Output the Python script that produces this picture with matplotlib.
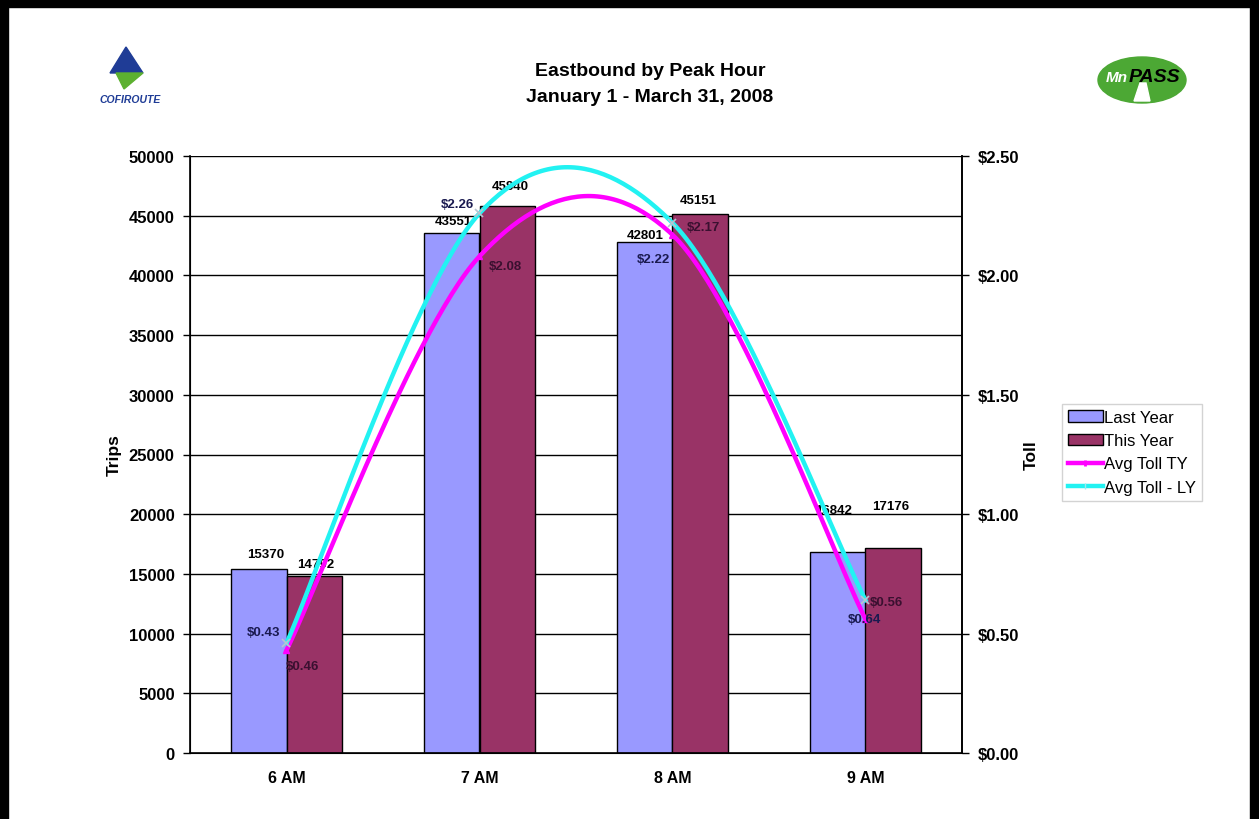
import matplotlib
matplotlib.use('Agg')
import matplotlib.pyplot as plt
from matplotlib.patches import Rectangle, Ellipse, Polygon
from matplotlib.lines import Line2D
import numpy as np

plt.rcParams['font.family'] = ['Liberation Sans', 'DejaVu Sans']

hours = ['6 AM', '7 AM', '8 AM', '9 AM']
trips_ly = [15370, 43551, 42801, 16842]
trips_ty = [14792, 45840, 45151, 17176]
toll_ty = [0.43, 2.08, 2.17, 0.56]
toll_ly = [0.46, 2.26, 2.22, 0.64]

NAVY = '#1a1a50'
PLUM = '#3a1030'

# data label nudges in pixels (dx right, dy up), and their text colours
ly_bar_nudge = [(7, 15), (1, 12), (0, 7), (-4, 42)]
ty_bar_nudge = [(2, 12), (3, 20), (-2, 14), (-2, 42)]
ly_toll_nudge = [(16, -23), (-22, 9), (-19, -36), (-1, -19)]
ty_toll_nudge = [(-23, 18), (26, -10), (31, 8), (21, 17)]
ly_toll_colors = [PLUM, NAVY, NAVY, NAVY]
ty_toll_colors = [NAVY, PLUM, PLUM, PLUM]

LY_BAR = '#9999FF'
TY_BAR = '#993366'
TY_LINE = '#FF00FF'
LY_LINE = '#22F2F2'

PX = 0.72  # points per pixel at 100 dpi


def catmull_rom(xs, ys, n=60):
    """Smoothed line through the points, the way spreadsheet charts draw it."""
    pts = np.column_stack([xs, ys]).astype(float)
    padded = np.vstack([pts[0], pts, pts[-1]])
    out = []
    t = np.linspace(0, 1, n)[:, None]
    for i in range(len(pts) - 1):
        p0, p1, p2, p3 = padded[i], padded[i + 1], padded[i + 2], padded[i + 3]
        seg = 0.5 * ((2 * p1) + (-p0 + p2) * t
                     + (2 * p0 - 5 * p1 + 4 * p2 - p3) * t ** 2
                     + (-p0 + 3 * p1 - 3 * p2 + p3) * t ** 3)
        out.append(seg if i == 0 else seg[1:])
    seg = np.vstack(out)
    return seg[:, 0], seg[:, 1]


def label(axis, text, xy, nudge, color='black'):
    axis.annotate(text, xy, xytext=(nudge[0] * PX, nudge[1] * PX),
                  textcoords='offset points', ha='center', va='center',
                  fontsize=9.5, fontweight='bold', color=color, zorder=6)


fig = plt.figure(figsize=(12.59, 8.2), dpi=100)
fig.patch.set_facecolor('white')

# page border
fig.add_artist(Rectangle((0, 1 - 8 / 820), 1, 8 / 820, transform=fig.transFigure,
                         color='black', zorder=10))
fig.add_artist(Rectangle((0, 0), 8 / 1259, 1, transform=fig.transFigure,
                         color='black', zorder=10))
fig.add_artist(Rectangle((1 - 9 / 1259, 0), 9 / 1259, 1, transform=fig.transFigure,
                         color='black', zorder=10))

ax = fig.add_axes([190 / 1259, 1 - 754 / 820, 772 / 1259, 597 / 820])
x = np.arange(len(hours))
w = 0.286

ax.set_ylim(0, 50000)
ax.set_xlim(-0.5, len(hours) - 0.5)
ax.set_yticks(np.arange(0, 50001, 5000))
for yv in np.arange(5000, 50001, 5000):
    ax.axhline(yv, color='black', lw=1, zorder=0)

b1 = ax.bar(x - w / 2, trips_ly, w, color=LY_BAR, edgecolor='black', lw=1,
            label='Last Year', zorder=2)
b2 = ax.bar(x + w / 2, trips_ty, w, color=TY_BAR, edgecolor='black', lw=1,
            label='This Year', zorder=2)
for xi, v, nd in zip(x, trips_ly, ly_bar_nudge):
    label(ax, f'{v}', (xi - w / 2, v), nd)
for xi, v, nd in zip(x, trips_ty, ty_bar_nudge):
    label(ax, f'{v}', (xi + w / 2, v), nd)

ax.set_xticks(x)
ax.set_xticklabels(hours, fontsize=11.5, fontweight='bold')
ax.tick_params(axis='x', length=0, pad=12)
ax.tick_params(axis='y', length=5, labelsize=12, width=1, pad=6)
for lab in ax.get_yticklabels():
    lab.set_fontweight('bold')
ax.set_ylabel('Trips', fontsize=12.5, fontweight='bold')
ax.yaxis.set_label_coords(-0.088, 0.5)
ax.spines['top'].set_visible(False)
for s in ('left', 'bottom', 'right'):
    ax.spines[s].set_linewidth(1.2)

ax2 = ax.twinx()
ax2.set_ylim(0, 2.5)
ax2.set_yticks(np.arange(0, 2.51, 0.5))
ax2.set_yticklabels([f'${v:.2f}' for v in np.arange(0, 2.51, 0.5)],
                    fontsize=12, fontweight='bold')
ax2.tick_params(axis='y', length=5, width=1, pad=6)
ax2.set_ylabel('Toll', fontsize=12.5, fontweight='bold')
ax2.yaxis.set_label_coords(1.080, 0.5)
ax2.spines['top'].set_visible(False)
ax2.spines['right'].set_linewidth(1.2)

sx, sy = catmull_rom(x, toll_ty)
ax2.plot(sx, sy, color=TY_LINE, lw=3.2, zorder=3)
ax2.plot(x, toll_ty, ls='none', marker='^', ms=5, color=TY_LINE, zorder=4)
sx, sy = catmull_rom(x, toll_ly)
ax2.plot(sx, sy, color=LY_LINE, lw=3.2, zorder=3)
ax2.plot(x, toll_ly, ls='none', marker='x', ms=6, mew=1.2, color='#b8c4d0', zorder=4)

for xi, v, nd, c in zip(x, toll_ty, ty_toll_nudge, ty_toll_colors):
    label(ax2, f'${v:.2f}', (xi, v), nd, c)
for xi, v, nd, c in zip(x, toll_ly, ly_toll_nudge, ly_toll_colors):
    label(ax2, f'${v:.2f}', (xi, v), nd, c)

handles = [b1, b2,
           Line2D([], [], color=TY_LINE, lw=3.2, marker='|', ms=5,
                  mec=TY_LINE, mew=2),
           Line2D([], [], color=LY_LINE, lw=3.2, marker='|', ms=5,
                  mec='#9fe8f0', mew=1)]
labels = ['Last Year', 'This Year', 'Avg Toll TY', 'Avg Toll - LY']
leg = fig.legend(handles, labels, loc='upper left',
                 bbox_to_anchor=(1062 / 1259, 1 - 405 / 820),
                 fontsize=12, frameon=True, fancybox=False, numpoints=1,
                 handlelength=2.1, handletextpad=0.1, borderpad=0.35,
                 labelspacing=0.5, borderaxespad=0)
leg.get_frame().set_edgecolor('#c8c8c8')
leg.get_frame().set_linewidth(1)

fig.text(650 / 1259, 1 - 72 / 820, 'Eastbound by Peak Hour', ha='center',
         va='center', fontsize=14, fontweight='bold')
fig.text(650 / 1259, 1 - 97 / 820, 'January 1 - March 31, 2008', ha='center',
         va='center', fontsize=14, fontweight='bold')

# Cofiroute logo
fig.add_artist(Polygon([(110 / 1259, 1 - 74 / 820), (126 / 1259, 1 - 48 / 820),
                        (143 / 1259, 1 - 74 / 820)], closed=True,
                       transform=fig.transFigure, color='#1f3c96'))
fig.add_artist(Polygon([(116 / 1259, 1 - 74 / 820), (143 / 1259, 1 - 74 / 820),
                        (124 / 1259, 1 - 90 / 820)], closed=True,
                       transform=fig.transFigure, color='#5cb030'))
fig.text(130 / 1259, 1 - 100 / 820, 'COFIROUTE', ha='center', va='center',
         fontsize=7.5, fontweight='bold', style='italic', color='#1f3c96')

# MnPASS logo
fig.add_artist(Ellipse((1142 / 1259, 1 - 81 / 820), 88 / 1259, 46 / 820,
                       transform=fig.transFigure, color='#4ca834'))
fig.add_artist(Polygon([(1134 / 1259, 1 - 102 / 820), (1140 / 1259, 1 - 84 / 820),
                        (1146 / 1259, 1 - 84 / 820), (1150 / 1259, 1 - 102 / 820)],
                       closed=True, transform=fig.transFigure, color='white'))
fig.text(1117 / 1259, 1 - 78 / 820, 'Mn', ha='center', va='center', fontsize=11,
         fontweight='bold', style='italic', color='white')
fig.text(1154 / 1259, 1 - 77 / 820, 'PASS', ha='center', va='center', fontsize=14,
         fontweight='bold', style='italic', color='black')

fig.savefig('out.png', dpi=100)
